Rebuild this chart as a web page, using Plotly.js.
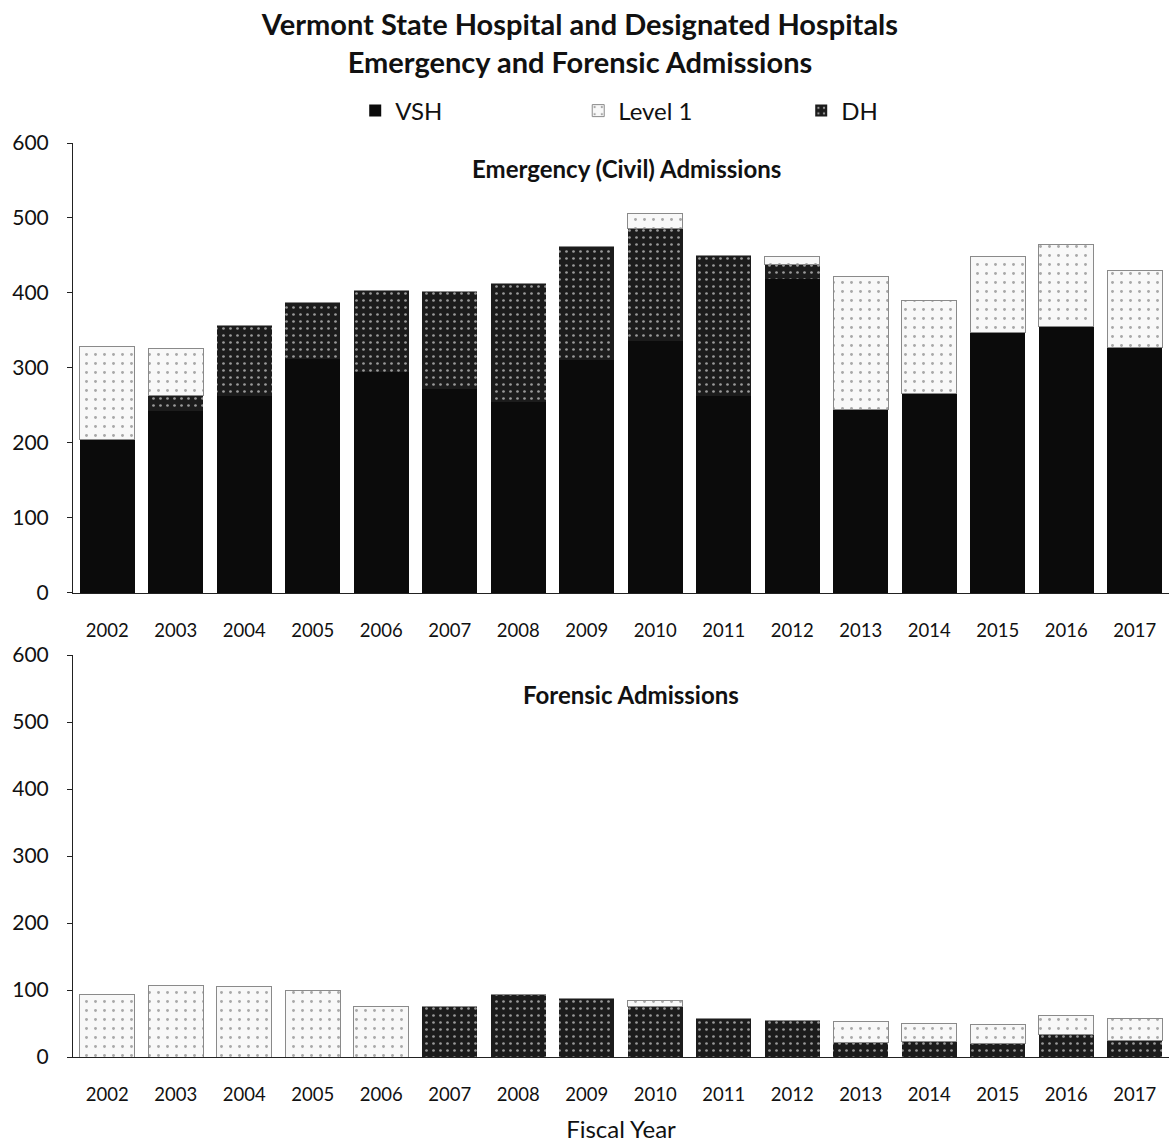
<!DOCTYPE html>
<html>
<head>
<meta charset="utf-8">
<script src="https://cdn.plot.ly/plotly-3.0.1.min.js"></script>
<style>html,body{margin:0;padding:0;background:#fff;overflow:hidden;}#chart{width:1174px;height:1144px;}</style>
</head>
<body>
<div id="chart"></div>
<script>
const years = ["2002","2003","2004","2005","2006","2007","2008","2009","2010","2011","2012","2013","2014","2015","2016","2017"];

// Emergency (Civil) Admissions
const emergVSH    = [205, 242, 262, 312, 295, 272, 255, 310, 336, 262, 418, 244, 266, 347, 355, 327];
const emergDH     = [0,   21,  94,  75,  108, 130, 157, 152, 150, 188, 20,  0,   0,   0,   0,   0];
const emergLevel1 = [123, 63,  0,   0,   0,   0,   0,   0,   20,  0,   10,  178, 124, 102, 109, 103];

// Forensic Admissions
const forVSH    = [0,  0,   0,   0,  0,  0,  0,  0,  0,  0,  0,  0,  0,  0,  0,  0];
const forDH     = [0,  0,   0,   0,  0,  75, 93, 88, 75, 58, 55, 21, 23, 20, 33, 25];
const forLevel1 = [94, 106, 105, 99, 75, 0,  0,  0,  9,  0,  0,  32, 27, 28, 29, 32];

const FONT = "Lato, 'Open Sans', 'DejaVu Sans', sans-serif";

const styles = {
  VSH:    {color:"#0b0b0b", line:{color:"#0b0b0b", width:0}},
  DH:     {color:"#1c1c1c", line:{color:"#1c1c1c", width:0},
           pattern:{shape:".", bgcolor:"#1c1c1c", fgcolor:"#9a9a9a", size:7, solidity:0.12}},
  Level1: {color:"#f8f8f8", line:{color:"#8a8a8a", width:1},
           pattern:{shape:".", bgcolor:"#f8f8f8", fgcolor:"#a8a8a8", size:9, solidity:0.08}}
};

function bar(name, y, xa, ya, st, showleg, rank) {
  return {type:"bar", name:name, x:years, y:y, xaxis:xa, yaxis:ya,
          marker:JSON.parse(JSON.stringify(st)), showlegend:showleg, legendgroup:name,
          legendrank:rank, hoverinfo:"x+y+name"};
}

const data = [
  bar("VSH", emergVSH, "x", "y", styles.VSH, true, 1),
  bar("DH", emergDH, "x", "y", styles.DH, true, 3),
  bar("Level 1", emergLevel1, "x", "y", styles.Level1, true, 2),
  bar("VSH", forVSH, "x2", "y2", styles.VSH, false, 1),
  bar("DH", forDH, "x2", "y2", styles.DH, false, 3),
  bar("Level 1", forLevel1, "x2", "y2", styles.Level1, false, 2)
];

const xCommon = {type:"category", showgrid:false, zeroline:false, showline:true,
  linecolor:"#222", linewidth:1, ticks:"", tickfont:{family:FONT, size:18.5, color:"#111"},
  ticklabelstandoff:21, fixedrange:true, automargin:false};
const yCommon = {range:[0,600], dtick:100, showgrid:false, zeroline:false, showline:true,
  linecolor:"#222", linewidth:1, ticks:"outside", ticklen:5, tickcolor:"#222",
  tickfont:{family:FONT, size:21, color:"#111"}, ticklabelstandoff:14, fixedrange:true, automargin:false};

const layout = {
  width:1174, height:1144,
  paper_bgcolor:"#fff", plot_bgcolor:"#fff",
  margin:{l:73, r:5, t:143, b:87, autoexpand:false},
  barmode:"stack", bargap:0.2,
  font:{family:FONT, color:"#111"},
  title:{text:"<b>Vermont State Hospital and Designated Hospitals<br>Emergency and Forensic Admissions</b>",
         x:0.494, xref:"container", xanchor:"center", y:0.969, yref:"container", yanchor:"top",
         font:{family:FONT, size:29, color:"#111"}},
  legend:{orientation:"h", x:0.2575, xanchor:"left", y:1.035, yanchor:"middle",
          entrywidth:178, entrywidthmode:"pixels", traceorder:"normal", itemwidth:30,
          font:{family:FONT, size:24, color:"#111"}, itemclick:false, itemdoubleclick:false},
  xaxis:Object.assign({}, xCommon, {domain:[0,1], anchor:"y"}),
  yaxis:Object.assign({}, yCommon, {domain:[0.5077,1], anchor:"x"}),
  xaxis2:Object.assign({}, xCommon, {domain:[0,1], anchor:"y2",
         title:{text:"Fiscal Year", font:{family:FONT, size:24, color:"#111"}, standoff:16}}),
  yaxis2:Object.assign({}, yCommon, {domain:[0,0.4398], anchor:"x2"}),
  annotations:[
    {text:"<b>Emergency (Civil) Admissions</b>", xref:"paper", yref:"paper", x:0.505, y:0.9725,
     showarrow:false, xanchor:"center", yanchor:"middle", font:{family:FONT, size:24, color:"#111"}},
    {text:"<b>Forensic Admissions</b>", xref:"paper", yref:"paper", x:0.509, y:0.397,
     showarrow:false, xanchor:"center", yanchor:"middle", font:{family:FONT, size:24, color:"#111"}}
  ]
};

Plotly.newPlot("chart", data, layout, {displayModeBar:false, staticPlot:true});
</script>
</body>
</html>
